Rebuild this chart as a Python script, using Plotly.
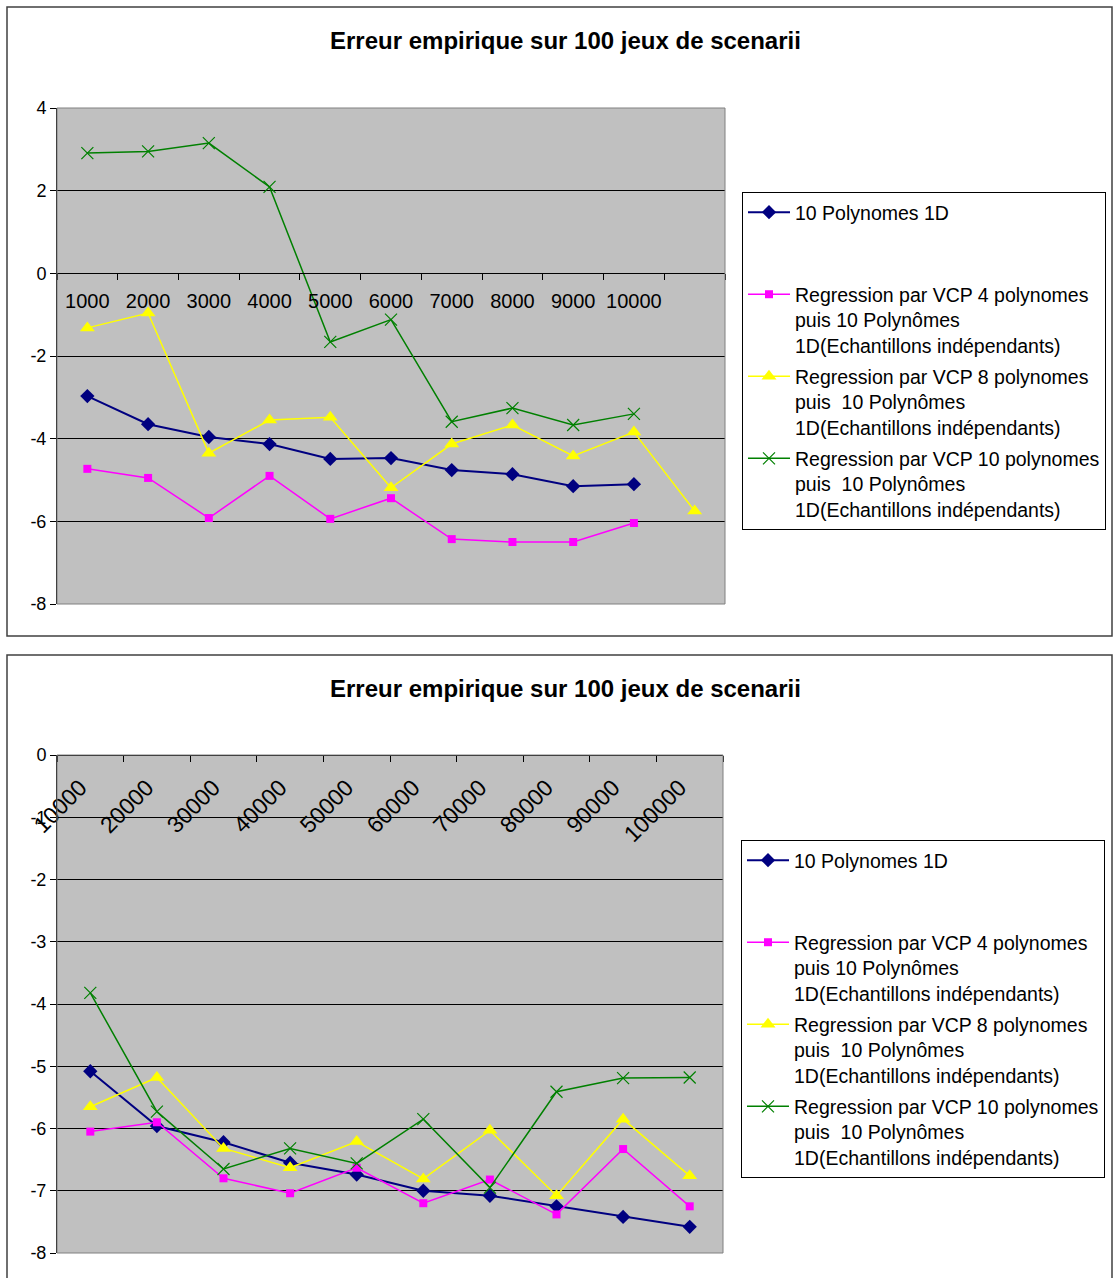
import plotly.graph_objects as go

# --- data ---
top_categories = ["1000", "2000", "3000", "4000", "5000", "6000",
                  "7000", "8000", "9000", "10000", " "]
top_poly1d = [-2.97, -3.65, -3.96, -4.13, -4.49, -4.47, -4.76, -4.86, -5.15, -5.10]
top_vcp4 = [-4.73, -4.95, -5.92, -4.90, -5.94, -5.44, -6.43, -6.50, -6.50, -6.04]
top_vcp8 = [-1.32, -0.96, -4.35, -3.55, -3.48, -5.19, -4.13, -3.67, -4.42, -3.84, -5.75]
top_vcp10 = [2.91, 2.95, 3.15, 2.09, -1.66, -1.12, -3.59, -3.26, -3.67, -3.40]
top_yticks = [4, 2, 0, -2, -4, -6, -8]

bot_categories = ["10000", "20000", "30000", "40000", "50000",
                  "60000", "70000", "80000", "90000", "100000"]
bot_poly1d = [-5.08, -5.96, -6.22, -6.55, -6.74, -7.00, -7.08, -7.25, -7.42, -7.58]
bot_vcp4 = [-6.05, -5.90, -6.80, -7.04, -6.63, -7.20, -6.82, -7.38, -6.33, -7.25]
bot_vcp8 = [-5.65, -5.18, -6.32, -6.63, -6.21, -6.81, -6.03, -7.08, -5.85, -6.76]
bot_vcp10 = [-3.82, -5.73, -6.65, -6.32, -6.56, -5.85, -6.95, -5.41, -5.19, -5.18]
bot_yticks = [0, -1, -2, -3, -4, -5, -6, -7, -8]

titre = "Erreur empirique sur 100 jeux de scenarii"
noms = [
    "10 Polynomes 1D<br> <br> ",
    "Regression par VCP 4 polynomes<br>puis 10 Polynômes<br>1D(Echantillons indépendants)",
    "Regression par VCP 8 polynomes<br>puis\u00a0 10 Polynômes<br>1D(Echantillons indépendants)",
    "Regression par VCP 10 polynomes<br>puis\u00a0 10 Polynômes<br>1D(Echantillons indépendants)",
]

# styles Excel
styles = [
    dict(color="#000080", symbol="diamond", size=11, width=2),
    dict(color="#FF00FF", symbol="square", size=8, width=1.5),
    dict(color="#FFFF00", symbol="triangle-up", size=13, width=1.5),
    dict(color="#008000", symbol="x-thin", size=12, width=1.5),
]

W, H = 1113, 1278
FONT = "Arial, Liberation Sans, sans-serif"


def px_x(p):
    return p / W


def px_y(p):
    return 1 - p / H


def add_series(fig, cats, series, xa, ya, leg):
    for i, (vals, st) in enumerate(zip(series, styles)):
        marker = dict(color=st["color"], symbol=st["symbol"], size=st["size"])
        if st["symbol"] == "x-thin":
            marker["line"] = dict(color=st["color"], width=1.2)
        fig.add_trace(go.Scatter(
            x=cats[:len(vals)], y=vals, name=noms[i],
            mode="lines+markers", line=dict(color=st["color"], width=st["width"]),
            marker=marker, xaxis=xa, yaxis=ya, legend=leg,
            legendgroup=f"{leg}_{i}"))


fig = go.Figure()
add_series(fig, top_categories, [top_poly1d, top_vcp4, top_vcp8, top_vcp10],
           "x", "y", "legend")
add_series(fig, bot_categories, [bot_poly1d, bot_vcp4, bot_vcp8, bot_vcp10],
           "x2", "y2", "legend2")

ytick_font = dict(family=FONT, size=18, color="black")

# position de l'axe des categories : y=0 dans le graphique du haut
top_y0, top_y1 = 604, 108
zero_px = top_y1 + (4 - 0) / 12 * (top_y0 - top_y1)

common_x = dict(type="category", categoryorder="array", side="bottom",
                anchor="free", tickson="boundaries", ticks="outside",
                ticklen=6, tickcolor="black", showline=True, linecolor="black",
                linewidth=1, showgrid=False, automargin=False)
common_y = dict(ticks="outside", ticklen=6, tickcolor="black", showline=True,
                linecolor="black", linewidth=1, showgrid=True,
                gridcolor="black", gridwidth=1, zeroline=False,
                tickfont=ytick_font, automargin=False, tickmode="array")
common_leg = dict(xanchor="left", yanchor="top", bgcolor="white",
                  bordercolor="black", borderwidth=1,
                  font=dict(family=FONT, size=19.5), valign="top",
                  itemwidth=42, tracegroupgap=3)

fig.update_layout(
    width=W, height=H, autosize=False,
    margin=dict(l=0, r=0, t=0, b=0, pad=0),
    paper_bgcolor="white",
    plot_bgcolor="#C0C0C0",
    font=dict(family=FONT, size=18, color="black"),
    xaxis=dict(common_x, categoryarray=top_categories,
               domain=[px_x(57), px_x(725)], range=[-0.5, 10.5],
               position=px_y(zero_px), tickangle=0, ticklabelstandoff=10,
               tickfont=dict(family=FONT, size=20, color="black")),
    yaxis=dict(common_y, domain=[px_y(top_y0), px_y(top_y1)], range=[-8, 4],
               anchor="x", tickvals=top_yticks,
               ticktext=[str(v) for v in top_yticks]),
    xaxis2=dict(common_x, categoryarray=bot_categories,
                domain=[px_x(57), px_x(723)], range=[-0.5, 9.5],
                position=px_y(755), tickangle=-45, ticklabelstandoff=9,
                ticklabelshift=-10,
                tickfont=dict(family=FONT, size=23, color="black")),
    yaxis2=dict(common_y, domain=[px_y(1253), px_y(755)], range=[-8, 0],
                anchor="x2", tickvals=bot_yticks,
                ticktext=[str(v) for v in bot_yticks]),
    legend=dict(common_leg, x=px_x(742), y=px_y(192)),
    legend2=dict(common_leg, x=px_x(741), y=px_y(840)),
    showlegend=True,
)

# titres
for ty in (40, 688):
    fig.add_annotation(
        text="<b>" + titre + "</b>", x=px_x(565), y=px_y(ty),
        xref="paper", yref="paper", xanchor="center", yanchor="middle",
        showarrow=False, font=dict(family=FONT, size=24, color="black"))

# cadres des graphiques et bord de la zone de traçage
fig.add_shape(type="rect", xref="paper", yref="paper",
              x0=px_x(7), x1=px_x(1112), y0=px_y(636), y1=px_y(7),
              line=dict(color="#404040", width=1.5), layer="below")
fig.add_shape(type="rect", xref="paper", yref="paper",
              x0=px_x(7), x1=px_x(1112), y0=px_y(1280), y1=px_y(655),
              line=dict(color="#404040", width=1.5), layer="below")
for xr, yr in (("x domain", "y domain"), ("x2 domain", "y2 domain")):
    fig.add_shape(type="rect", xref=xr, yref=yr, x0=0, x1=1, y0=0, y1=1,
                  line=dict(color="#808080", width=1), layer="above")

fig.write_html("out.html", config={"displayModeBar": False},
               post_script="document.body.style.margin='0';"
                           "document.body.style.overflow='hidden';")
